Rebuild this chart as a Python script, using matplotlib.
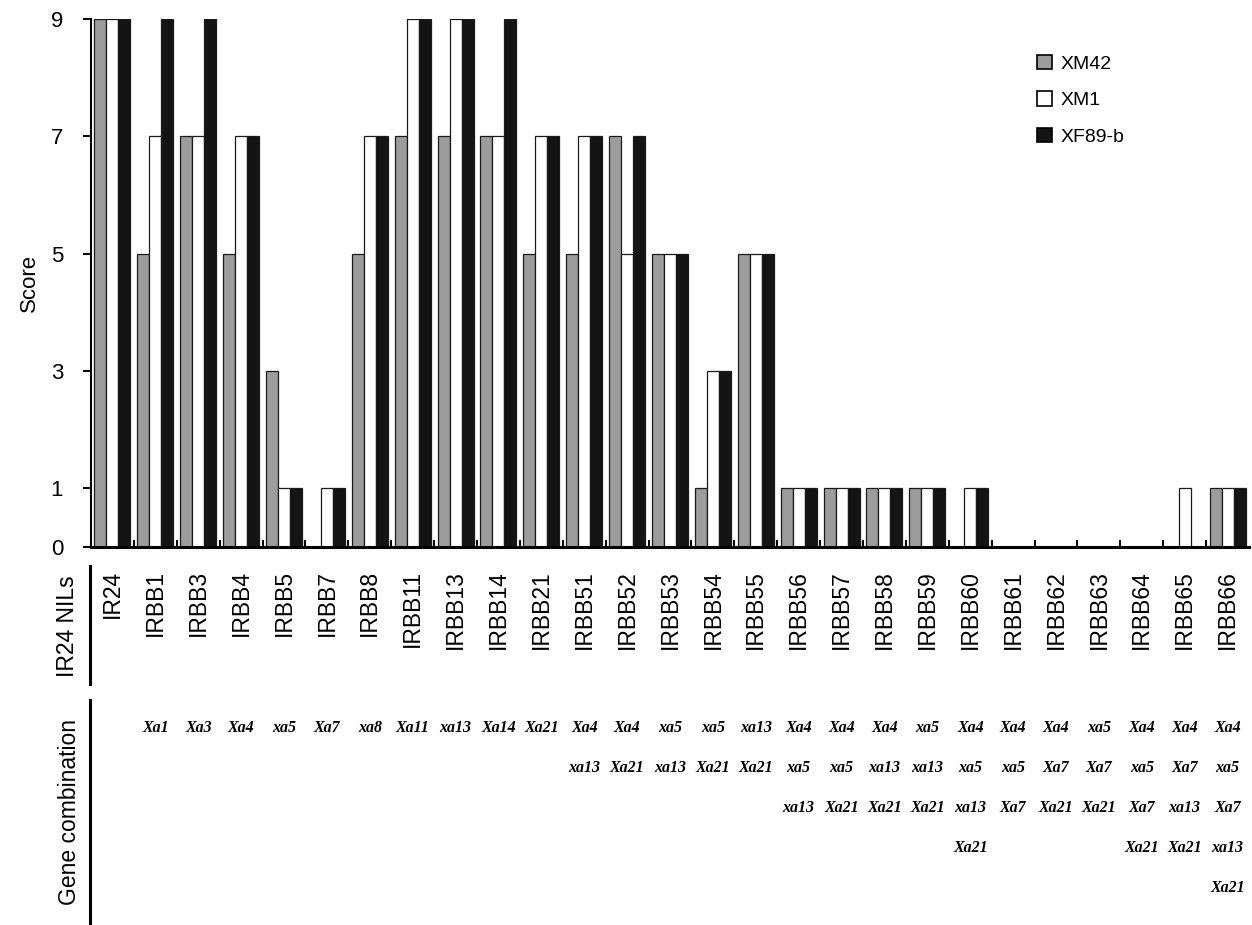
import numpy as np
import matplotlib
matplotlib.use("Agg")
import matplotlib.pyplot as plt
from matplotlib.patches import Patch
from matplotlib.lines import Line2D
from matplotlib.transforms import blended_transform_factory

plt.rcParams['font.family'] = ['Liberation Sans', 'DejaVu Sans']

lines_ = ['IR24', 'IRBB1', 'IRBB3', 'IRBB4', 'IRBB5', 'IRBB7', 'IRBB8', 'IRBB11',
          'IRBB13', 'IRBB14', 'IRBB21', 'IRBB51', 'IRBB52', 'IRBB53', 'IRBB54',
          'IRBB55', 'IRBB56', 'IRBB57', 'IRBB58', 'IRBB59', 'IRBB60', 'IRBB61',
          'IRBB62', 'IRBB63', 'IRBB64', 'IRBB65', 'IRBB66']
xm42 = [9, 5, 7, 5, 3, 0, 5, 7, 7, 7, 5, 5, 7, 5, 1, 5, 1, 1, 1, 1, 0, 0, 0, 0, 0, 0, 1]
xm1 = [9, 7, 7, 7, 1, 1, 7, 9, 9, 7, 7, 7, 5, 5, 3, 5, 1, 1, 1, 1, 1, 0, 0, 0, 0, 1, 1]
xf89b = [9, 9, 9, 7, 1, 1, 7, 9, 9, 9, 7, 7, 7, 5, 3, 5, 1, 1, 1, 1, 1, 0, 0, 0, 0, 0, 1]
genes = [[], ['Xa1'], ['Xa3'], ['Xa4'], ['xa5'], ['Xa7'], ['xa8'], ['Xa11'],
         ['xa13'], ['Xa14'], ['Xa21'], ['Xa4', 'xa13'], ['Xa4', 'Xa21'],
         ['xa5', 'xa13'], ['xa5', 'Xa21'], ['xa13', 'Xa21'],
         ['Xa4', 'xa5', 'xa13'], ['Xa4', 'xa5', 'Xa21'], ['Xa4', 'xa13', 'Xa21'],
         ['xa5', 'xa13', 'Xa21'], ['Xa4', 'xa5', 'xa13', 'Xa21'],
         ['Xa4', 'xa5', 'Xa7'], ['Xa4', 'Xa7', 'Xa21'], ['xa5', 'Xa7', 'Xa21'],
         ['Xa4', 'xa5', 'Xa7', 'Xa21'], ['Xa4', 'Xa7', 'xa13', 'Xa21'],
         ['Xa4', 'xa5', 'Xa7', 'xa13', 'Xa21']]
series = ['XM42', 'XM1', 'XF89-b']
colors = ['#9c9c9c', 'white', '#141414']

W, H = 1252, 925
fig = plt.figure(figsize=(W / 100, H / 100), dpi=100)
ax = fig.add_axes([91 / W, 1 - 547 / H, (1249 - 91) / W, (547 - 19) / H])

n = len(lines_)
x = np.arange(n) + 0.5
bw = 0.28
for k, vals in enumerate([xm42, xm1, xf89b]):
    ax.bar(x + (k - 1) * bw, vals, bw, color=colors[k], edgecolor='#1a1a1a', linewidth=0.9)

ax.set_xlim(0, n)
ax.set_ylim(0, 9)
ax.set_yticks([0, 1, 3, 5, 7, 9])
ax.tick_params(axis='y', direction='out', length=6, width=1.5, labelsize=16, pad=14)
ax.set_xticks(np.arange(1, n))
ax.set_xticklabels([])
ax.tick_params(axis='x', direction='in', length=5, width=1.5)
for s in ['top', 'right']:
    ax.spines[s].set_visible(False)
ax.spines['left'].set_linewidth(1.5)
ax.spines['bottom'].set_linewidth(2.2)
ax.set_ylabel('Score', fontsize=16, labelpad=8)

handles = [Patch(facecolor=c, edgecolor='black', linewidth=1.2) for c in colors]
ax.legend(handles, series, loc='upper left', bbox_to_anchor=(1037 / W, 1 - 55 / H),
          bbox_transform=fig.transFigure, frameon=False, fontsize=14,
          handlelength=0.75, handleheight=0.75, handletextpad=0.45,
          labelspacing=0.95, borderpad=0, borderaxespad=0)

# table below the axis
tr = blended_transform_factory(ax.transData, fig.transFigure)
for i, name in enumerate(lines_):
    ax.text(x[i], 1 - 570 / H, name, transform=tr, rotation=90, ha='center',
            va='top', fontsize=16.5)
    for r, g in enumerate(genes[i]):
        ax.text(x[i], 1 - (728 + r * 40) / H, g, transform=tr, ha='center',
                va='center', fontsize=11.5, family='Liberation Serif',
                style='italic', weight='bold')

fig.text(68 / W, 1 - 626 / H, 'IR24 NILs', rotation=90, ha='center', va='center', fontsize=16.5)
fig.text(70 / W, 1 - 812 / H, 'Gene combination', rotation=90, ha='center', va='center', fontsize=16.5)
fig.add_artist(Line2D([90 / W, 90 / W], [1 - 566 / H, 1 - 684 / H], color='black', linewidth=2.2))
fig.add_artist(Line2D([90 / W, 90 / W], [1 - 700 / H, 0], color='black', linewidth=2.2))

fig.savefig('out.png', dpi=100)
